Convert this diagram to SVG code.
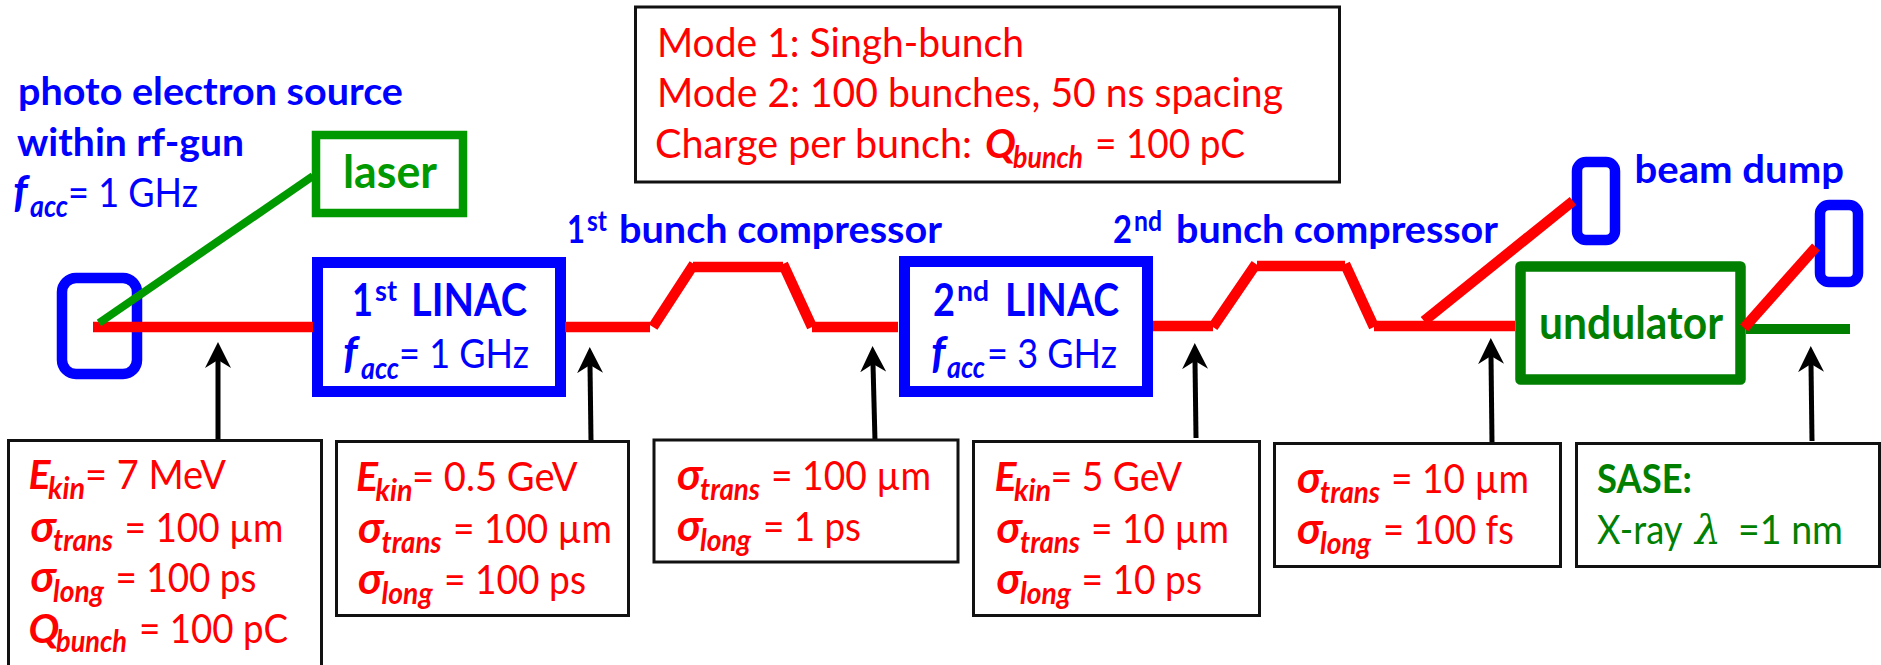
<svg xmlns="http://www.w3.org/2000/svg" width="1881" height="665" viewBox="0 0 1881 665">
<style>
text{font-family:Lato,"Open Sans","Liberation Sans",sans-serif;font-size:41px}
.r{fill:#f00}.b{fill:#00f}.g{fill:#007f00}
.h{font-weight:700}
.m{font-weight:700;font-style:italic;font-size:41px}
.q{font-weight:700;font-style:italic;font-size:44px}
.s{font-weight:700;font-style:italic;font-size:30px}
.u{font-weight:700;font-size:28px}
.t{font-size:39px;font-weight:700}
.L{font-size:46px;font-weight:700}
.box{fill:#fff;stroke:#111;stroke-width:3}
.bl{fill:none;stroke:#00f}
.red{stroke:#f00;stroke-width:10.5;fill:none}
.arr{stroke:#000;stroke-width:5;fill:none;marker-end:url(#head)}
</style>
<defs>
<marker id="head" markerUnits="userSpaceOnUse" markerWidth="26" markerHeight="26" refX="8" refY="13" orient="auto" viewBox="0 0 26 26"><path d="M26 13L0 0L8 13L0 26Z" fill="#000"/></marker>
</defs>
<rect width="1881" height="665" fill="#fff"/>
<g id="mode-box"><rect class="box" x="635.5" y="7" width="704" height="175"/>
<text class="r" x="657" y="57" textLength="367" lengthAdjust="spacingAndGlyphs">Mode 1: Singh-bunch</text>
<text class="r" x="657" y="107" textLength="626" lengthAdjust="spacingAndGlyphs">Mode 2: 100 bunches, 50 ns spacing</text>
<text class="r" y="158"><tspan x="655" textLength="327" lengthAdjust="spacingAndGlyphs">Charge per bunch: </tspan><tspan class="m" x="985">Q</tspan><tspan class="s" x="1013" y="168" textLength="70" lengthAdjust="spacingAndGlyphs">bunch</tspan><tspan x="1095" y="158" textLength="150" lengthAdjust="spacingAndGlyphs">= 100 pC</tspan></text></g>
<g id="source-label">
<text class="b t" x="18" y="105" textLength="385" lengthAdjust="spacingAndGlyphs">photo electron source</text>
<text class="b t" x="17" y="156" textLength="227" lengthAdjust="spacingAndGlyphs">within rf-gun</text>
<text class="b" y="207"><tspan class="q" x="13">f</tspan><tspan class="s" x="30" y="217" textLength="38" lengthAdjust="spacingAndGlyphs">acc</tspan><tspan x="68" y="207" textLength="130" lengthAdjust="spacingAndGlyphs">= 1 GHz</tspan></text></g>
<g id="source"><rect class="bl" stroke-width="10.5" x="62" y="278" width="75" height="96" rx="14"/></g>
<g id="laser"><rect fill="none" stroke="#090" stroke-width="8.5" x="316" y="135" width="147" height="78"/>
<text class="L" style="fill:#090" x="343" y="188" textLength="94" lengthAdjust="spacingAndGlyphs">laser</text></g>
<g id="linac1"><rect class="bl" stroke-width="11" x="317.5" y="262.5" width="243" height="129"/>
<text class="b L" y="316"><tspan x="352" textLength="21" lengthAdjust="spacingAndGlyphs">1</tspan><tspan class="u" x="375" y="301" textLength="22" lengthAdjust="spacingAndGlyphs">st</tspan><tspan x="411" y="316" textLength="116" lengthAdjust="spacingAndGlyphs">LINAC</tspan></text>
<text class="b" y="368"><tspan class="q" x="343">f</tspan><tspan class="s" x="361" y="379" textLength="38" lengthAdjust="spacingAndGlyphs">acc</tspan><tspan x="399" y="368" textLength="130" lengthAdjust="spacingAndGlyphs">= 1 GHz</tspan></text></g>
<g id="bc1-label"><text class="b t" y="243"><tspan x="567" textLength="18" lengthAdjust="spacingAndGlyphs">1</tspan><tspan class="u" x="587" y="231" textLength="20" lengthAdjust="spacingAndGlyphs">st</tspan><tspan x="619" y="243" textLength="323" lengthAdjust="spacingAndGlyphs">bunch compressor</tspan></text></g>
<g id="linac2"><rect class="bl" stroke-width="11" x="904.5" y="261.5" width="243" height="130"/>
<text class="b L" y="316"><tspan x="933" textLength="22" lengthAdjust="spacingAndGlyphs">2</tspan><tspan class="u" x="957" y="301" textLength="32" lengthAdjust="spacingAndGlyphs">nd</tspan><tspan x="1005" y="316" textLength="114" lengthAdjust="spacingAndGlyphs">LINAC</tspan></text>
<text class="b" y="368"><tspan class="q" x="931">f</tspan><tspan class="s" x="947" y="378" textLength="38" lengthAdjust="spacingAndGlyphs">acc</tspan><tspan x="987" y="368" textLength="130" lengthAdjust="spacingAndGlyphs">= 3 GHz</tspan></text></g>
<g id="bc2-label"><text class="b t" y="243"><tspan x="1113" textLength="19" lengthAdjust="spacingAndGlyphs">2</tspan><tspan class="u" x="1134" y="231" textLength="28" lengthAdjust="spacingAndGlyphs">nd</tspan><tspan x="1176" y="243" textLength="322" lengthAdjust="spacingAndGlyphs">bunch compressor</tspan></text></g>
<g id="dump1"><rect class="bl" stroke-width="10.5" x="1577" y="162" width="38" height="78" rx="9"/>
<text class="b t" x="1634.5" y="183" textLength="209.5" lengthAdjust="spacingAndGlyphs">beam dump</text></g>
<g id="dump2"><rect class="bl" stroke-width="10.5" x="1820" y="205" width="38" height="77" rx="9"/></g>
<g id="undulator"><rect fill="none" stroke="#007f00" stroke-width="10.5" stroke-linejoin="round" x="1520.5" y="266.5" width="220" height="113"/>
<text class="g L" x="1539" y="339" textLength="184" lengthAdjust="spacingAndGlyphs">undulator</text></g>
<g id="connectors">
<path class="red" stroke-width="11" d="M93 327H313"/>
<path d="M99 323L313 176" stroke="#090" stroke-width="8" fill="none"/>
<path class="red" d="M565 327H650M653 327L694 264M693 267H783M783 264L812 327M812 327H898"/>
<path class="red" d="M1153 326H1213M1213 327L1256 264M1257 266H1345M1345 264L1374 327M1374 326H1515"/>
<path class="red" d="M1424 321L1573 201"/>
<path d="M1746 329H1850" stroke="#007f00" stroke-width="10" fill="none"/>
<path class="red" d="M1744 328L1816 247"/>
<path class="arr" d="M218 439V360"/>
<path class="arr" d="M591 441L590 365"/>
<path class="arr" d="M875 441L873 364"/>
<path class="arr" d="M1196 438L1195 361"/>
<path class="arr" d="M1492 443L1491 356"/>
<path class="arr" d="M1812 441L1811 364"/>
</g>
<g id="info1"><rect class="box" x="8.5" y="440.5" width="313" height="240"/>
<text class="r" y="489"><tspan class="m" x="28.5">E</tspan><tspan class="s" x="48" y="499" textLength="37" lengthAdjust="spacingAndGlyphs">kin</tspan><tspan x="85" y="489" textLength="141" lengthAdjust="spacingAndGlyphs">= 7 MeV</tspan></text>
<text class="r" y="542"><tspan class="q" x="30.6">σ</tspan><tspan class="s" x="53" y="551" textLength="60" lengthAdjust="spacingAndGlyphs">trans</tspan><tspan x="124.5" y="542" textLength="159" lengthAdjust="spacingAndGlyphs">= 100 µm</tspan></text>
<text class="r" y="592"><tspan class="q" x="30.6">σ</tspan><tspan class="s" x="53" y="602" textLength="51" lengthAdjust="spacingAndGlyphs">long</tspan><tspan x="115.5" y="592" textLength="141" lengthAdjust="spacingAndGlyphs">= 100 ps</tspan></text>
<text class="r" y="643"><tspan class="m" x="28.5">Q</tspan><tspan class="s" x="56" y="652" textLength="71" lengthAdjust="spacingAndGlyphs">bunch</tspan><tspan x="139" y="643" textLength="149" lengthAdjust="spacingAndGlyphs">= 100 pC</tspan></text></g>
<g id="info2"><rect class="box" x="336.5" y="441.5" width="292" height="174"/>
<text class="r" y="491"><tspan class="m" x="356">E</tspan><tspan class="s" x="375.5" y="501" textLength="37" lengthAdjust="spacingAndGlyphs">kin</tspan><tspan x="412" y="491" textLength="165.5" lengthAdjust="spacingAndGlyphs">= 0.5 GeV</tspan></text>
<text class="r" y="543"><tspan class="q" x="358">σ</tspan><tspan class="s" x="381.6" y="553" textLength="60" lengthAdjust="spacingAndGlyphs">trans</tspan><tspan x="453" y="543" textLength="159" lengthAdjust="spacingAndGlyphs">= 100 µm</tspan></text>
<text class="r" y="594"><tspan class="q" x="358">σ</tspan><tspan class="s" x="381.6" y="604" textLength="51" lengthAdjust="spacingAndGlyphs">long</tspan><tspan x="444" y="594" textLength="142" lengthAdjust="spacingAndGlyphs">= 100 ps</tspan></text></g>
<g id="info3"><rect class="box" x="654" y="440" width="304" height="122"/>
<text class="r" y="490"><tspan class="q" x="677">σ</tspan><tspan class="s" x="700" y="500" textLength="60" lengthAdjust="spacingAndGlyphs">trans</tspan><tspan x="771" y="490" textLength="160" lengthAdjust="spacingAndGlyphs">= 100 µm</tspan></text>
<text class="r" y="541"><tspan class="q" x="677">σ</tspan><tspan class="s" x="700" y="551" textLength="51" lengthAdjust="spacingAndGlyphs">long</tspan><tspan x="763" y="541" textLength="98" lengthAdjust="spacingAndGlyphs">= 1 ps</tspan></text></g>
<g id="info4"><rect class="box" x="973.5" y="441.5" width="286" height="174"/>
<text class="r" y="491"><tspan class="m" x="994.5">E</tspan><tspan class="s" x="1014" y="501" textLength="37" lengthAdjust="spacingAndGlyphs">kin</tspan><tspan x="1050.5" y="491" textLength="131.5" lengthAdjust="spacingAndGlyphs">= 5 GeV</tspan></text>
<text class="r" y="543"><tspan class="q" x="996.5">σ</tspan><tspan class="s" x="1020" y="553" textLength="60" lengthAdjust="spacingAndGlyphs">trans</tspan><tspan x="1091" y="543" textLength="138" lengthAdjust="spacingAndGlyphs">= 10 µm</tspan></text>
<text class="r" y="594"><tspan class="q" x="996.5">σ</tspan><tspan class="s" x="1020" y="604" textLength="51" lengthAdjust="spacingAndGlyphs">long</tspan><tspan x="1081.5" y="594" textLength="120.5" lengthAdjust="spacingAndGlyphs">= 10 ps</tspan></text></g>
<g id="info5"><rect class="box" x="1274.5" y="443.5" width="286" height="123"/>
<text class="r" y="493"><tspan class="q" x="1297">σ</tspan><tspan class="s" x="1320" y="503" textLength="60" lengthAdjust="spacingAndGlyphs">trans</tspan><tspan x="1391" y="493" textLength="138" lengthAdjust="spacingAndGlyphs">= 10 µm</tspan></text>
<text class="r" y="544"><tspan class="q" x="1297">σ</tspan><tspan class="s" x="1320" y="554" textLength="51" lengthAdjust="spacingAndGlyphs">long</tspan><tspan x="1383" y="544" textLength="131" lengthAdjust="spacingAndGlyphs">= 100 fs</tspan></text></g>
<g id="info6"><rect class="box" x="1576.5" y="443.5" width="303" height="123"/>
<text class="g h" x="1597" y="493" textLength="95" lengthAdjust="spacingAndGlyphs">SASE:</text>
<text class="g" y="544"><tspan x="1597" textLength="94" lengthAdjust="spacingAndGlyphs">X-ray </tspan><tspan x="1695" font-style="italic" style="font-family:'DejaVu Serif',serif">λ</tspan><tspan x="1738" textLength="105" lengthAdjust="spacingAndGlyphs">=1 nm</tspan></text></g>
</svg>
